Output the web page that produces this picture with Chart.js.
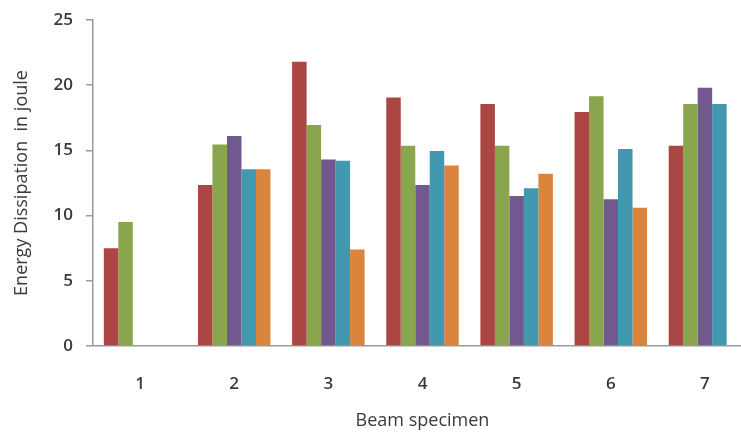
<!DOCTYPE html>
<html>
<head>
<meta charset="utf-8">
<script src="https://cdn.jsdelivr.net/npm/chart.js@4"></script>
<style>
  html, body { margin: 0; padding: 0; background: #fff; overflow: hidden; }
  #wrap { position: relative; width: 760px; height: 432px; }
</style>
</head>
<body>
<div id="wrap"><canvas id="energyChart"></canvas></div>
<script>
'use strict';

/* ── Data ── */
const specimens = ['1', '2', '3', '4', '5', '6', '7'];
const seriesA = [7.5, 12.35, 21.8, 19.05, 18.55, 17.95, 15.35];
const seriesB = [9.5, 15.45, 16.95, 15.35, 15.35, 19.15, 18.55];
const seriesC = [null, 16.1, 14.3, 12.35, 11.5, 11.25, 19.8];
const seriesD = [null, 13.55, 14.2, 14.95, 12.1, 15.1, 18.55];
const seriesE = [null, 13.55, 7.4, 13.85, 13.2, 10.6, null];
const yTicks = [0, 5, 10, 15, 20, 25];

const colors = ['#AA4643', '#89A54E', '#71588F', '#4198AF', '#DB843D'];
const textColor = '#3A3A3A';
const axisColor = '#9A9A9A';

/* ── Chart ── */
(function initEnergyChart() {
  const ctx = document.getElementById('energyChart');
  if (!ctx) return;

  const series = [seriesA, seriesB, seriesC, seriesD, seriesE];

  new Chart(ctx, {
    type: 'bar',
    data: {
      labels: specimens,
      datasets: series.map((data, i) => ({
        label: 'Series ' + (i + 1),
        data,
        backgroundColor: colors[i],
        borderWidth: 0,
        categoryPercentage: 0.77,
        barPercentage: 1.0,
      }))
    },
    options: {
      responsive: true,
      maintainAspectRatio: false,
      animation: false,
      layout: { padding: { top: 20, right: 8, left: 0, bottom: 0 } },
      plugins: {
        legend: { display: false },
        tooltip: { enabled: false }
      },
      scales: {
        x: {
          grid: { display: false },
          border: { color: axisColor, width: 1.5 },
          ticks: { color: textColor, font: { family: 'Open Sans', size: 17, weight: '600' }, padding: 20 },
          title: {
            display: true,
            text: 'Beam specimen',
            color: textColor,
            font: { family: 'Open Sans', size: 18 },
            padding: { top: 0, bottom: 0 }
          },
          afterFit: s => { s.height = 86; s.paddingLeft = 0; s.paddingRight = 0; }
        },
        y: {
          min: 0,
          max: 25,
          grid: { drawOnChartArea: false, drawTicks: true, tickLength: 7, color: axisColor, lineWidth: 1.5 },
          border: { color: axisColor, width: 1.5 },
          afterBuildTicks: s => { s.ticks = yTicks.map(v => ({ value: v })); },
          ticks: { color: textColor, font: { family: 'Open Sans', size: 17, weight: '600' }, padding: 13 },
          title: {
            display: true,
            text: 'Energy Dissipation  in joule',
            color: textColor,
            font: { family: 'Open Sans', size: 18 },
            padding: { top: 11, bottom: 0 }
          },
          afterFit: s => { s.width = 93; s.paddingTop = 0; s.paddingBottom = 0; }
        }
      }
    }
  });
})();
</script>
</body>
</html>
